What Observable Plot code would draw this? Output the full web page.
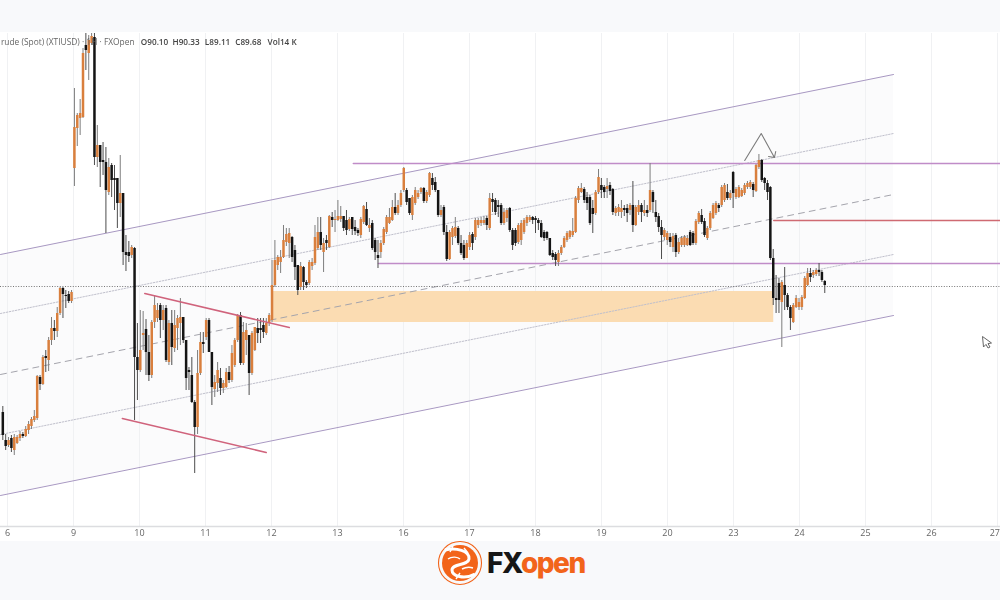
<!DOCTYPE html>
<html>
<head>
<meta charset="utf-8">
<script src="https://cdn.jsdelivr.net/npm/d3@7"></script>
<script src="https://cdn.jsdelivr.net/npm/@observablehq/plot@0.6"></script>
<style>
html,body{margin:0;padding:0;background:#f8f9fb;width:1000px;height:600px;overflow:hidden}
#paper{position:absolute;left:0;top:32px;width:1000px;height:509px;background:#fff}
#chart{position:absolute;left:0;top:0}
#chart svg{display:block;background:transparent;filter:blur(.45px)}
#logo{position:absolute;left:436px;top:539px;width:50px;height:50px}
#brand{position:absolute;left:487px;top:545px;font:800 28px/36px Inter,"Liberation Sans",sans-serif;letter-spacing:-1.5px;white-space:nowrap}
#brand .fx{color:#161616}#brand .op{color:#f2641a}
#cursor{position:absolute;left:978px;top:333px;width:16px;height:18px}
</style>
</head>
<body>
<div id="paper"></div>
<div id="chart"></div>
<svg id="logo" viewBox="0 0 50 50">
<circle cx="24" cy="24" r="21.5" fill="none" stroke="#f2641a" stroke-width="1.1"/>
<circle cx="24" cy="24" r="18" fill="#f2641a"/>
<path d="M9 11C20 8 34 12 33 20C32 27 16 24 16 31C16 37 28 41 39 35" fill="none" stroke="#fff" stroke-width="3"/>
<path d="M12 20C16 17 22 18 24 20M26 30C30 28 34 28 37 29M14 13L17 7M28 9L32 14M20 40L24 34" fill="none" stroke="#fff" stroke-width="1.4"/>
</svg>
<div id="brand"><span class="fx">FX</span><span class="op">open</span></div>
<svg id="cursor" viewBox="0 0 16 18"><path d="M4.5 3.5L5.5 14L8 11.4L10 15L12 14L10 10.6L13.5 10Z" fill="#fff" stroke="#666" stroke-width="1"/></svg>
<script>
// Hourly bars per trading day: [open, high, low, close]
const bars6=[[83.4,83.7,82,82.25],[82,82.3,81.5,81.7],[81.75,82.15,81.65,82],[82.1,82.25,81.4,81.6],[81.5,82.3,81.25,82.15],[81.85,82.25,81.8,82.15],[82.1,82.45,81.95,82.3],[82.3,82.4,82.1,82.2],[82.2,82.7,82.15,82.55],[82.5,82.95,82.3,82.8],[82.7,83.15,82.55,83.05],[83,83.5,82.9,83.2],[83.1,85.25,83,85.2],[85.15,85.25,84.5,84.8],[84.8,86.25,84.75,86.15],[86.2,86.5,85.4,86.1],[86,87.15,85.45,87],[87,88.15,86.75,87.6],[87.6,88,87,87.45],[87.45,88.65,87.15,88.35],[88.35,89.65,88.25,89.6],[89.6,89.65,88.1,89.3],[89.25,89.5,88.6,89.2],[89.3,89.45,88.85,88.95],[88.95,89.5,88.85,89.4]];
const bars9=[[95.6,99.6,94.7,97.65],[97.6,98.35,96.7,98.25],[98.1,99.05,97.25,98.35],[98.15,101.6,98.1,101.35],[101.75,102.35,100.5,101.5],[101.35,102.25,100,102],[101.85,102.35,101.75,102.2],[102.15,102.35,95.75,96.15],[96.15,97.75,95.65,96.75],[96.75,96.75,94.65,95.9],[96,96.9,95.25,95.9],[95.9,96.65,92.35,94.5],[94.4,96.1,94.25,95.65],[95.75,95.85,94.15,95],[95.1,95.75,93.5,95],[95.1,95.1,92.6,93.85],[93.85,96.25,93.15,94.35],[94.35,94.35,90.75,91.4],[91.4,92.25,90.45,91.25],[91.4,91.95,90.9,91.2],[91.25,91.75,91.1,91.65],[91.6,91.65,83,86.15],[86.15,87.85,84,85.5]];
const bars10=[[85.5,88.5,85.4,86.5],[87.25,88.45,86.5,87.35],[87.55,88.05,85.25,86.4],[86.4,87.25,84.95,85.25],[85.25,88,85.1,87.9],[87.9,89.25,87.6,88.75],[88.1,88.85,87.9,88.5],[88.75,88.85,87.1,88],[88,88.75,87.5,88.5],[88.6,88.75,85.9,86],[85.9,88,85.75,87.85],[87.85,88.5,85.75,86.65],[86.6,88.5,86.4,87.75],[87.6,88.25,86.5,88.1],[87.85,89.1,86.75,88.15],[88.15,88.15,86.85,87],[87,87,84.5,85.1],[85.5,85.65,84.5,85.4],[85.25,86.15,83.85,83.9],[83.9,84,80.35,82.65],[82.65,86.5,82.3,85.35],[85.35,87.4,85.25,86.9],[86.9,87.4,86.35,86.8]];
const bars11=[[87.15,88.1,87,88],[88,88.1,86.4,86.4],[86.4,86.4,83.75,84.65],[84.55,85.25,84.15,84.9],[84.85,85.9,84.4,85.5],[85.1,85.6,84.25,84.6],[84.6,85,84.35,84.85],[84.65,85.6,84.6,85.4],[85.4,85.7,84.85,85],[85,86.75,84.9,86.35],[85.75,87.1,85.65,87],[87,88.3,86.9,88.25],[88.25,88.4,85.75,85.85],[85.85,87.9,85.75,87.4],[87,87.85,86.25,87.5],[87.25,87.25,84.25,85.35],[85.35,87.45,85.25,87.35],[86.5,87.65,86.45,87.65],[87.6,88.1,86.85,87.35],[87.6,88.1,86.85,87.5],[87.75,88.1,87.1,87.4],[87.35,88.1,87.25,87.85],[87.85,88.35,87.7,88.25]];
const bars12=[[88,91,87.9,89.75],[89.75,92,89.65,91],[90.75,91.25,90.5,91.15],[90.9,91.5,90.35,91.15],[91.15,92.75,91.1,92],[91.9,92.6,91.7,92.3],[91.85,92.6,91.1,92.35],[92.15,92.2,90.9,91.15],[91.5,91.75,90,90.65],[90.75,90.75,89.25,89.5],[89.65,90.9,89.5,90.7],[90.65,90.7,89.5,89.9],[89.9,90,89.6,89.75],[89.85,91,89.75,90.9],[90.7,91.1,90.5,90.9],[90.85,92.75,90.75,92.15],[91.6,93.15,91.5,92.4],[92.4,93.15,91.5,91.75],[91.4,92.1,90.4,91.85],[92,92.25,91.5,91.85],[91.65,93.25,91.6,93.2],[93.15,93.4,92.65,93],[93,93.5,92.4,93.05]];
const bars13=[[93,94,92.95,93.2],[93.05,93.7,92.9,93.2],[93.2,93.2,92.45,92.6],[93,93.5,92.25,92.5],[92.55,93.15,92.45,93.05],[93.15,93.15,92.25,92.55],[92.65,93,92.25,92.45],[92.5,92.6,92.2,92.35],[92.25,93.15,92.1,93.05],[92.9,93.75,92.8,93.7],[93.55,93.9,92.7,92.75],[92.6,93.1,92.4,92.75],[92.85,93,91.5,91.6],[92,92.1,91,91.4],[91.25,92,90.6,91.1],[91.4,92,91.1,91.85],[91.85,92.65,91.75,92.55],[92.4,93.25,92.3,93.15],[92.85,93.6,92.8,93.15],[93,94,92.95,93.65],[93.65,94.35,93.25,93.35],[93.35,94,93.25,93.75],[93.75,94.5,93.65,94.35]];
const bars16=[[94.5,95.65,94.4,95.6],[94.5,94.6,93.75,93.9],[94.1,94.1,93.25,93.35],[93.25,94.25,93,94.15],[93.85,94.65,93.75,94.5],[94.15,94.5,94.05,94.35],[94.4,94.65,94.3,94.6],[94.6,94.65,93.85,93.95],[93.95,94.5,93.85,94.4],[94.25,95.4,94.15,95.35],[95.1,95.35,94.5,94.75],[94.9,95.15,94.4,94.5],[94.5,94.5,93.15,93.25],[93.25,93.75,93.15,93.5],[93.65,93.75,92.25,92.4],[92.4,92.75,90.95,91.05],[91.05,92.5,91,92.4],[92.15,92.7,91.75,92.6],[92.2,93.15,92.1,92.65],[92.6,92.7,91.75,91.85],[91.85,92.25,91.25,91.35],[91.75,92,91,91.1],[91.1,92,91.1,91.85]];
const bars17=[[91.65,92.4,91.5,92.25],[92.3,92.4,91.5,91.85],[92.15,93.1,92,93],[92.75,93.1,92.6,93],[92.85,93.15,92.7,93],[92.85,93.2,92.75,93],[93.1,93.2,92.5,92.75],[92.6,94.35,92.5,94.1],[94.05,94.35,93.4,93.9],[94,94.1,93.25,93.4],[93.75,94,93.15,93.65],[93.75,93.85,92.75,92.85],[92.85,93.6,92.75,93.4],[93.1,93.6,92.9,93.5],[93.6,93.65,92.4,92.5],[92.5,92.6,91.5,91.75],[92.5,92.6,91.7,91.85],[91.9,92.85,91.8,92.75],[92,93,91.75,92.85],[92.4,93.1,92.3,93],[92.85,93.25,92.7,93.15],[93,93.25,92.9,93.15],[93.15,93.2,92.8,93]];
const bars18=[[93.1,93.2,92.35,93],[93,93.1,92.5,92.85],[92.85,93,92.1,92.15],[92.4,92.5,91.95,92.1],[92.4,92.45,92,92.1],[92.1,92.1,91.2,91.25],[91.35,91.5,91,91.15],[91.3,91.4,90.7,91],[90.9,91.5,90.7,91.35],[91.35,91.75,91.25,91.65],[91.65,92.2,91.6,92.1],[92,92.45,91.9,92.35],[92.15,92.5,92.05,92.45],[92.25,93.1,92.15,92.45],[92.4,94.2,92.35,94.1],[94,94.7,93.85,94.6],[94.4,94.85,94.35,94.6],[94.55,94.65,93.85,94],[94.15,94.4,93.5,93.85],[94.15,94.25,92.75,92.85],[93.6,94,92.35,93.3],[93.35,94.5,93.25,94.4],[94.4,95.55,94.3,95.15]];
const bars19=[[94.75,95.1,94.1,94.5],[94.65,94.75,94.1,94.4],[94.55,95.1,94.1,94.7],[94.75,94.9,94.25,94.45],[94.55,94.6,93.25,93.4],[93.35,93.7,93.2,93.6],[93.4,93.8,93.2,93.65],[93.4,94,93.1,93.6],[93.6,93.75,93.2,93.5],[93.6,93.8,92.9,93.35],[93.5,93.85,93.25,93.75],[93.75,94.95,92.4,92.75],[92.75,93.75,92.7,93.65],[93.4,94,93.25,93.75],[93.75,93.85,92.9,93.4],[93.35,94,93.2,93.5],[93.5,93.75,93.15,93.35],[93.5,95.85,93.4,94.5],[94.4,94.5,93.35,93.9],[93.4,94,92.9,93.15],[93.2,93.35,92.4,92.65],[92.65,93,91.05,92.25],[92.15,92.6,92,92.5]];
const bars20=[[92,92.45,91.75,92.35],[92.15,92.35,91.65,91.9],[91.65,92.35,91.4,92.2],[92.25,92.35,91.15,91.4],[91.4,92.1,91.3,91.9],[91.75,92.2,91.65,92.1],[91.75,92.25,91.65,92.15],[91.75,92.25,91.7,92.1],[92.4,92.5,91.7,91.75],[92.35,92.45,91.75,91.85],[91.85,93.05,91.75,92.95],[92.9,93.45,92.8,93.35],[93.25,93.55,92.8,92.9],[92.95,93.1,92.15,92.25],[92.1,92.7,92,92.6],[92.6,93.45,92.5,93.35],[93.1,93.85,93.05,93.75],[93.35,93.95,93.25,93.85],[93.75,93.85,93.4,93.6],[93.75,94.75,93.65,94.65],[94,94.85,93.9,94.75],[94.4,94.8,94,94.1],[94.1,94.5,94,94.35]];
const bars23=[[95.4,95.45,93.6,94.35],[94.15,94.65,94.05,94.55],[94.15,94.75,94.1,94.65],[94.2,94.6,94.15,94.5],[94.35,94.85,94.25,94.75],[94.65,94.95,94.55,94.85],[94.65,95,94.55,94.9],[94.8,94.9,94.15,94.5],[94.45,95.8,94.4,95.75],[95.65,96.3,95.55,96],[96,96.05,94.9,95],[95.1,95.15,94.5,94.85],[94.85,95,94,94.4],[94.65,94.7,91,91.1],[91.1,91.55,88.75,89.1],[89.1,90.25,88.35,89],[89.85,90.1,88.35,89],[88.9,90,86.65,89.9],[89.75,90.65,88.5,89.25],[89.25,89.35,88.5,88.65],[88.65,88.75,87.5,88.1],[87.9,88.85,87.85,88.75],[88.65,89.25,88.6,89.1]];
const bars24=[[88.65,89.1,88.5,88.9],[88.65,89.25,88.5,89.15],[89.1,90.2,89.05,90.1],[89.75,90.6,89.7,90.35],[90.35,90.6,89.9,90.15],[90.25,90.5,90.1,90.4],[90.3,90.6,90.2,90.5],[90.5,90.85,90.2,90.4],[90.4,90.5,89.9,90],[89.95,90,89.35,89.75]];

// Session axis
const sessionTicks=[0,1,2,3,4,5,6,7,8,9,10,11,12,13,14,15];
const sessionLabels=["6","9","10","11","12","13","16","17","18","19","20","23","24","25","26","27"];
const firstBarSession=-0.071, lastBarSession=12.383;

// Regression channel, two end points in session / price
const channelX=[-0.106,13.424];
const channelUpper=[91.3,100.3];
const channelUpperMid=[88.35,97.35];
const channelMid=[85.3,94.3];
const channelLowerMid=[82.3,91.3];
const channelLower=[79.25,88.25];

// Horizontal levels
const lastClose=89.7;
const resistance={from:5.24,to:15.2,price:95.85};
const midSupport={from:5.62,to:15.2,price:90.85};
const redLevel={from:11.61,to:15.2,price:93};
const zone={x1:4.02,x2:11.61,y1:87.9,y2:89.45};

// Flag boundaries and top arrow
const flagUpperX=[2.08,4.27], flagUpperY=[89.35,87.65];
const flagLowerX=[1.74,3.92], flagLowerY=[83.1,81.4];
const arrowX=[11.17,11.42,11.62,11.53,11.62,11.64];
const arrowY=[96,97.35,96.15,96.2,96.15,96.45];

// Axis bounds
const plotTop=102.35, plotBottom=77.7, tickLabelPrice=77.35;

// Legend
const legendTitle="rude (Spot) (XTIUSD) · 1H · FXOpen";
const legendItems=["O90.10","H90.33","L89.11","C89.68","Vol14 K"];
const legendSessions=[2.02,2.5,2.99,3.45,3.94];
const legendPrice=101.9;

const allBars=[...bars6,...bars9,...bars10,...bars11,...bars12,...bars13,...bars16,...bars17,...bars18,...bars19,...bars20,...bars23,...bars24];
const step=(lastBarSession-firstBarSession)/(allBars.length-1);
const candles=allBars.map(([o,h,l,c],i)=>({s:firstBarSession+i*step,o,h,l,c}));
const up=candles.filter(d=>d.c>=d.o), down=candles.filter(d=>d.c<d.o);
const pts=(xs,ys)=>xs.map((x,i)=>({x,y:ys[i]}));
const seg=(l)=>[{x:l.from,y:l.price},{x:l.to,y:l.price}];
const line=(xs,ys,o)=>Plot.line(pts(xs,ys),{x:"x",y:"y",...o});
const tickFont={y:()=>tickLabelPrice,text:d=>sessionLabels[d],fontSize:9,fill:"#666",fontFamily:"'Open Sans',sans-serif"};

const chart=Plot.plot({
  width:1000,height:600,margin:0,
  style:{background:"transparent",overflow:"hidden"},
  x:{domain:[0,15],range:[7,997],axis:null},
  y:{domain:[74,104],range:[600,0],axis:null},
  marks:[
    Plot.areaY(channelX.map((x,i)=>({x,a:channelUpper[i],b:channelLower[i]})),{x:"x",y1:"a",y2:"b",fill:"#fbfbfc"}),
    Plot.ruleX(sessionTicks,{x:d=>d,y1:plotBottom,y2:plotTop,stroke:"#f0f1f3",strokeWidth:1}),
    Plot.ruleY([plotBottom],{stroke:"#dcdde0",strokeWidth:1.3}),
    Plot.rect([zone],{x1:"x1",x2:"x2",y1:"y1",y2:"y2",fill:"#fbdcb2"}),
    line(channelX,channelUpper,{stroke:"#a898c2",strokeWidth:1}),
    line(channelX,channelLower,{stroke:"#a898c2",strokeWidth:1}),
    line(channelX,channelUpperMid,{stroke:"#c0c0cc",strokeWidth:1,strokeDasharray:"1.5 1.5"}),
    line(channelX,channelLowerMid,{stroke:"#c0c0cc",strokeWidth:1,strokeDasharray:"1.5 1.5"}),
    line(channelX,channelMid,{stroke:"#a4a4ac",strokeWidth:1,strokeDasharray:"6 5"}),
    Plot.ruleY([lastClose],{stroke:"#666",strokeWidth:.9,strokeDasharray:"1 1.6"}),
    Plot.line(seg(resistance),{x:"x",y:"y",stroke:"#c08cc8",strokeWidth:1.5}),
    Plot.line(seg(midSupport),{x:"x",y:"y",stroke:"#c08cc8",strokeWidth:1.5}),
    Plot.line(seg(redLevel),{x:"x",y:"y",stroke:"#cf6a72",strokeWidth:1.5}),
    Plot.ruleX(up,{x:"s",y1:"l",y2:"h",stroke:"#7d7d7d",strokeWidth:1}),
    Plot.ruleX(down,{x:"s",y1:"l",y2:"h",stroke:"#4d4d4d",strokeWidth:1}),
    Plot.ruleX(up,{x:"s",y1:"o",y2:"c",stroke:"#d97f3d",strokeWidth:2.5}),
    Plot.ruleX(down,{x:"s",y1:"o",y2:"c",stroke:"#141414",strokeWidth:2.5}),
    line(flagUpperX,flagUpperY,{stroke:"#d0637c",strokeWidth:1.5}),
    line(flagLowerX,flagLowerY,{stroke:"#d0637c",strokeWidth:1.5}),
    line(arrowX,arrowY,{stroke:"#7b7b7b",strokeWidth:1.1}),
    Plot.text(sessionTicks.slice(0,-1),{x:d=>d,...tickFont}),
    Plot.text(sessionTicks.slice(-1),{x:d=>d,textAnchor:"end",dx:2.5,...tickFont}),
    Plot.text([legendTitle],{x:()=>-0.1,y:()=>legendPrice,text:d=>d,textAnchor:"start",fontSize:8.4,fill:"#666",fontFamily:"'Open Sans',sans-serif"}),
    Plot.text(legendItems,{x:(d,i)=>legendSessions[i],y:()=>legendPrice,text:d=>d,textAnchor:"start",fontSize:8.2,fontWeight:600,fill:"#444",fontFamily:"'Open Sans',sans-serif"})
  ]
});
document.getElementById("chart").append(chart);
</script>
</body>
</html>
